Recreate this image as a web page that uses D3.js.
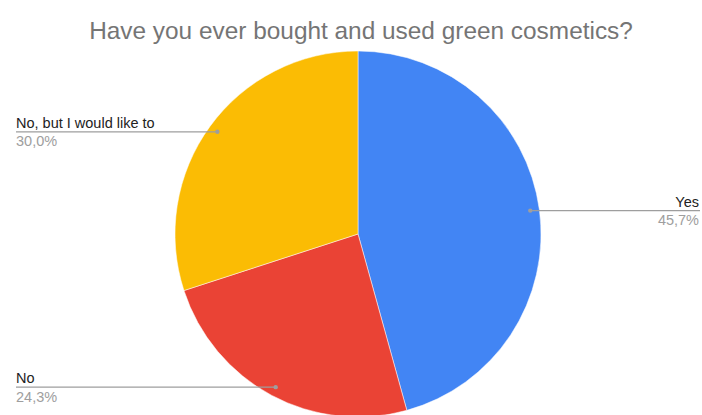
<!DOCTYPE html>
<html><head><meta charset="utf-8">
<script src="https://cdn.jsdelivr.net/npm/d3@7"></script>
<style>body{margin:0;background:#fff;}svg{display:block;font-family:"Liberation Sans",Arial,sans-serif;}</style>
</head><body>
<script>
const categories = ["Yes", "No", "No, but I would like to"];
const values = [45.7, 24.3, 30.0];
const valueLabels = ["45,7%", "24,3%", "30,0%"];
const colors = ["#4285f4", "#ea4335", "#fbbc04"];
const title = "Have you ever bought and used green cosmetics?";

const W = 702, H = 415;
const cx = 358, cy = 234, R = 183;
const svg = d3.select("body").append("svg").attr("width", W).attr("height", H);

svg.append("text").attr("x", 361).attr("y", 39).attr("text-anchor", "middle")
  .attr("font-size", 24.4).attr("fill", "#757575").text(title);

const data = categories.map((c, i) => ({cat: c, value: values[i], label: valueLabels[i], color: colors[i]}));
const pie = d3.pie().sort(null).value(d => d.value);
const arcs = pie(data);
const arc = d3.arc().innerRadius(0).outerRadius(R);
const g = svg.append("g").attr("transform", `translate(${cx},${cy})`);
g.selectAll("path").data(arcs).join("path").attr("d", arc).attr("fill", d => d.data.color)
  .attr("stroke", "#fff").attr("stroke-width", 0.5);

const dotArc = d3.arc().innerRadius(R * 0.95).outerRadius(R * 0.95);
arcs.forEach(a => {
  const [px, py] = dotArc.centroid(a);
  const x = cx + px, y = cy + py;
  const right = x > cx;
  const x2 = right ? 700 : 16;
  svg.append("line").attr("x1", x).attr("y1", y).attr("x2", x2).attr("y2", y)
    .attr("stroke", "#9e9e9e").attr("stroke-width", 1.2);
  svg.append("circle").attr("cx", x).attr("cy", y).attr("r", 2.2).attr("fill", "#9e9e9e");
  const tx = right ? 699 : 16;
  const anchor = right ? "end" : "start";
  svg.append("text").attr("x", tx).attr("y", y - 4).attr("text-anchor", anchor)
    .attr("font-size", 14.5).attr("fill", "#222").text(a.data.cat);
  svg.append("text").attr("x", tx).attr("y", y + 14.5).attr("text-anchor", anchor)
    .attr("font-size", 14.5).attr("fill", "#9e9e9e").text(a.data.label);
});
</script>
</body></html>
